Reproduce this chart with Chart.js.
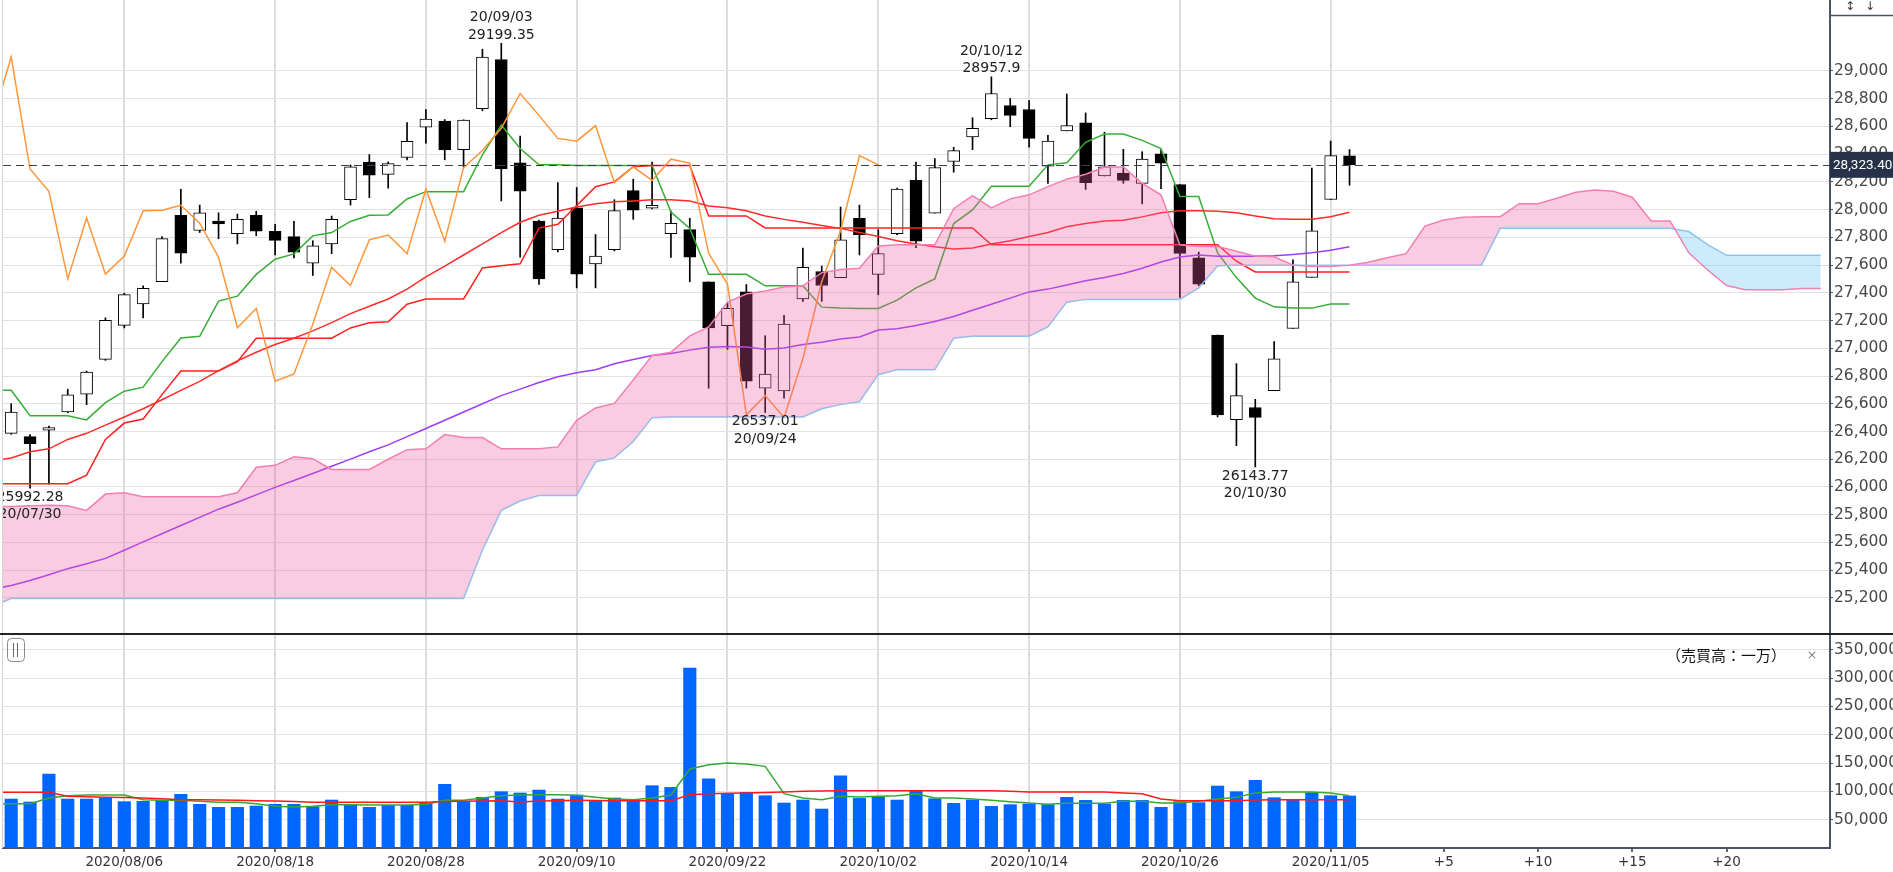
<!DOCTYPE html>
<html><head><meta charset="utf-8">
<script src="https://cdn.jsdelivr.net/npm/chart.js@4/dist/chart.umd.min.js"></script>
<style>
html,body{margin:0;padding:0;background:#fff;overflow:hidden;}
#wrap{position:relative;width:1893px;height:872px;background:#fff;}
#pc{position:absolute;left:0;top:0;}
#vc{position:absolute;left:0;top:632px;}
</style></head><body>
<div id="wrap"><canvas id="pc" width="1893" height="633"></canvas><canvas id="vc" width="1893" height="240"></canvas></div>
<script>
// ---------- DATA ----------
const dates = ['2020/07/29','2020/07/30','2020/07/31','2020/08/03','2020/08/04','2020/08/05','2020/08/06','2020/08/07','2020/08/10','2020/08/11',
 '2020/08/12','2020/08/13','2020/08/14','2020/08/17','2020/08/18','2020/08/19','2020/08/20','2020/08/21','2020/08/24','2020/08/25',
 '2020/08/26','2020/08/27','2020/08/28','2020/08/31','2020/09/01','2020/09/02','2020/09/03','2020/09/04','2020/09/08','2020/09/09',
 '2020/09/10','2020/09/11','2020/09/14','2020/09/15','2020/09/16','2020/09/17','2020/09/18','2020/09/21','2020/09/22','2020/09/23',
 '2020/09/24','2020/09/25','2020/09/28','2020/09/29','2020/09/30','2020/10/01','2020/10/02','2020/10/05','2020/10/06','2020/10/07',
 '2020/10/08','2020/10/09','2020/10/12','2020/10/13','2020/10/14','2020/10/15','2020/10/16','2020/10/19','2020/10/20','2020/10/21',
 '2020/10/22','2020/10/23','2020/10/26','2020/10/27','2020/10/28','2020/10/29','2020/10/30','2020/11/02','2020/11/03','2020/11/04',
 '2020/11/05','2020/11/06'];

const open = [26387,26363,26410,26541,26670,26920,27165,27320,27480,27960,
 27850,27918,27826,27960,27844,27806,27614,27753,28072,28344,
 28255,28376,28595,28639,28432,28728,29083,28338,27918,27711,
 28013,27608,27711,28137,28010,27826,27856,27480,27164,27407,
 26713,26692,27356,27554,27510,27938,27533,27826,28211,27974,
 28347,28524,28657,28751,28722,28314,28568,28627,28243,28264,
 28190,28403,28181,27652,27096,26485,26573,26694,27143,27512,
 28073,28389];
const high = [26600,26378,26440,26705,26836,27220,27398,27451,27806,28146,
 28033,27977,27968,27989,27894,27915,27776,27954,28323,28397,
 28344,28628,28722,28650,28648,29157,29199.35,28530,27924,28196,
 28160,27821,28072,28220,28344,27989,27938,27480,27327,27460,
 27091,27238,27723,27593,28019,28033,27856,28155,28344,28368,
 28450,28663,28957.9,28802,28787,28536,28834,28698,28559,28435,
 28418,28432,28181,27694,27096,26890,26632,27048,27639,28300,
 28495,28433];
const low = [26380,25992.28,26020,26535,26594,26913,27147,27220,27481,27614,
 27835,27791,27753,27812,27673,27652,27525,27682,28033,28087,
 28155,28359,28480,28359,28308,28713,28063,27658,27460,27696,
 27436,27436,27702,27930,28005,27655,27480,26712,26993,26713,
 26537.01,26640,27339,27339,27510,27673,27386,27820,27726,27974,
 28270,28433,28648,28598,28450,28190,28568,28146,28243,28190,
 28042,28152,27368,27451,26505,26298,26143.77,26694,27143,27512,
 28073,28176];
const close = [26541,26313,26428,26664,26828,27201,27387,27433,27791,27687,
 27977,27897,27931,27845,27778,27693,27740,27930,28308,28248,
 28332,28492,28654,28430,28646,29100,28293,28133,27501,27940,
 27535,27666,27993,27996,28032,27902,27657,27148,27288,26763,
 26815,27174,27584,27453,27782,27817,27683,28149,27773,28303,
 28426,28587,28838,28680,28514,28494,28606,28195,28309,28211,
 28364,28336,27685,27463,26520,26659,26502,26925,27480,27848,
 28390,28323.40];

const volume = [86500,81200,130600,86500,86500,88200,81800,82400,84100,94700,
 77100,71800,71800,74100,77100,77100,72900,84700,77100,71800,
 75300,75300,79400,112300,82400,89400,99400,97100,102300,86500,
 93500,82400,88200,85300,110000,107000,317600,122300,95900,98200,
 92300,79400,84700,68800,127600,87600,90000,84700,100000,87000,
 78800,84700,73500,76500,77600,76500,89400,84100,77600,84100,
 84100,71800,81800,80000,109400,99400,119400,88800,85300,97600,
 92300,91800];

// line series start one bar before the first candle (index -1)
const LINE_START = -1;
const tenkan = [26697,26697,26514,26514,26514,26484,26608,26691,26720,26904,27075,27087,27341,27376,27533,27643,27681,27811,27835,27915,
 27959,27962,28077,28130,28130,28130,28396,28610,28441,28323,28323,28318,28318,28318,28318,28318,27983,27865,27534,27534,
 27534,27451,27451,27451,27297,27290,27288,27288,27348,27436,27501,27900,27998,28169,28169,28169,28323,28338,28486,28545,
 28545,28500,28441,28095,28095,27688,27510,27362,27299,27290,27290,27320,27320];
const kijun = [26023,26023,26023,26023,26023,26085,26343,26461,26490,26666,26836,26836,26836,26904,27073,27073,27073,27073,27073,27147,
 27185,27191,27318,27356,27356,27356,27580,27596,27610,27867,27895,28030,28165,28200,28310,28318,28318,28318,27955,27955,
 27955,27868,27868,27868,27868,27868,27868,27868,27868,27868,27868,27868,27868,27747,27747,27747,27747,27747,27747,27747,
 27747,27747,27747,27747,27747,27747,27628,27551,27551,27551,27551,27551,27551];
const ma25 = [26190,26209,26254,26275,26343,26387,26446,26505,26564,26629,26697,26762,26839,26910,26972,27028,27073,27126,27185,27250,
 27303,27356,27427,27516,27593,27673,27753,27835,27909,27959,27989,28019,28042,28057,28063,28072,28072,28063,28027,28013,
 27992,27954,27930,27909,27886,27865,27835,27806,27776,27753,27732,27717,27723,27753,27776,27806,27835,27877,27900,27918,
 27924,27948,27977,27992,27992,27989,27977,27954,27934,27931,27931,27949,27981];
const ma75 = [25262,25290,25325,25367,25411,25447,25485,25544,25604,25663,25722,25781,25840,25890,25943,25997,26047,26097,26150,26201,
 26254,26304,26363,26422,26481,26541,26600,26659,26706,26753,26795,26824,26845,26889,26919,26949,26963,26987,27007,27013,
 27010,26993,27002,27028,27043,27067,27082,27132,27141,27164,27194,27229,27274,27318,27362,27407,27427,27457,27487,27510,
 27540,27578,27622,27658,27673,27664,27664,27664,27668,27677,27689,27707,27733];
const chikou = [28646,29100,28293,28133,27501,27940,27535,27666,27993,27996,28032,27902,27657,27148,27288,26763,26815,27174,27584,27453,
 27782,27817,27683,28149,27773,28303,28426,28587,28838,28680,28514,28494,28606,28195,28309,28211,28364,28336,27685,27463,
 26520,26659,26502,26925,27480,27848,28390,28323.40];
const spanA = [25860,25860,25865,25868,25865,25831,25949,25958,25929,25929,25929,25929,25929,25958,26142,26156,26218,26204,26127,26127,
 26127,26200,26269,26275,26378,26357,26357,26275,26275,26275,26289,26481,26570,26603,26771,26949,26972,27090,27155,27333,
 27392,27413,27442,27451,27546,27569,27578,27738,27747,27747,27747,28007,28101,28013,28078,28107,28166,28220,28255,28308,
 28308,28190,28107,27747,27735,27735,27700,27665,27660,27600,27590,27590,27600,27621,27653,27683,27881,27925,27946,27949,
 27949,28043,28043,28082,28126,28141,28132,28090,27919,27919,27689,27565,27453,27423,27423,27423,27432,27432];
const spanB = [25140,25195,25195,25195,25195,25195,25195,25195,25195,25195,25195,25195,25195,25195,25195,25195,25195,25195,25195,25195,
 25195,25195,25195,25195,25195,25195,25544,25831,25899,25938,25938,25938,26180,26210,26328,26500,26505,26505,26505,26505,
 26505,26505,26505,26505,26564,26594,26615,26810,26845,26845,26845,27073,27087,27087,27087,27087,27155,27333,27353,27353,
 27353,27353,27353,27353,27436,27593,27600,27600,27600,27600,27600,27600,27600,27600,27600,27600,27600,27600,27600,27600,
 27866,27866,27866,27866,27866,27866,27866,27866,27866,27866,27842,27748,27671,27671,27671,27671,27671,27671];
const volMA5 = [78200,78200,78200,88200,92300,93500,93500,93500,85300,84100,84100,82400,80600,80600,78200,73500,72400,73500,76500,76500,
 75900,75900,75900,77100,84100,84100,88200,92300,93500,94100,94100,92900,89400,86500,85300,88200,93500,139400,147000,150000,
 148200,144100,95900,88200,85300,91200,90000,91200,92300,95900,88200,88200,86500,84100,81800,79400,77100,78800,78800,78800,
 82400,82400,79400,79400,82400,86500,89400,97100,98800,98800,98800,97100,92300];
const volMA25 = [98200,98200,98200,98200,91200,90500,89400,89000,88200,87000,85300,85000,84700,84100,83500,82900,82000,80600,80600,80600,
 80600,80600,80600,80600,82000,82400,82800,83500,81200,82900,83500,84100,84000,83500,83500,83500,83500,94100,95900,96500,
 97100,98000,99000,100000,100500,101200,101200,101200,101200,101200,101200,101200,101200,101200,100000,98800,98800,98800,98800,98800,
 97100,95900,86500,83500,83500,83500,83500,84700,85300,85300,85300,85300,85300];

const tickIdx = [6,14,22,30,38,46,54,62,70,76,81,86,91];
const tickLabels = ['2020/08/06','2020/08/18','2020/08/28','2020/09/10','2020/09/22','2020/10/02','2020/10/14','2020/10/26','2020/11/05','+5','+10','+15','+20'];
const priceTicks = [25200,25400,25600,25800,26000,26200,26400,26600,26800,27000,27200,27400,27600,27800,28000,28200,28400,28600,28800,29000];
const volTicks = [50000,100000,150000,200000,250000,300000,350000];

const annIdx  = [26, 52, 1, 40, 66];
const annVal  = [29199.35, 28957.9, 25992.28, 26537.01, 26143.77];
const annDate = ['20/09/03','20/10/12','20/07/30','20/09/24','20/10/30'];
const annSide = ['high','high','low','low','low'];

// ---------- LAYOUT / STYLE ----------
const X_MIN = -0.435, X_MAX = 96.49;
const AXIS_W = 63;
const GRID_H = '#e2e2e2', GRID_V = '#dddddd', AXIS_C = '#4b5366';
Chart.defaults.font.family = "'DejaVu Sans', sans-serif";

const pts = (arr, start) => arr.map((v, k) => ({x: start + k, y: v}));
const bodyData = close.map((c, i) => ({x: i, y: [open[i], c]}));
const wickData = close.map((c, i) => ({x: i, y: [low[i], high[i]]}));
const lastClose = close[close.length - 1];

function lineDs(data, start, color, order) {
  return {type: 'line', data: pts(data, start), borderColor: color, borderWidth: 1.5,
          pointRadius: 0, tension: 0, fill: false, order: order};
}

const xScaleBase = {
  type: 'linear', min: X_MIN, max: X_MAX, offset: false, bounds: 'data',
  afterBuildTicks: s => { s.ticks = tickIdx.map(v => ({value: v})); }
};

const priceDeco = {
  id: 'priceDeco',
  afterDatasetsDraw(chart) {
    const {ctx, chartArea: a, scales: {x, y}} = chart;
    ctx.save();
    ctx.beginPath(); ctx.rect(a.left, a.top, a.right - a.left, a.bottom - a.top); ctx.clip();
    ctx.font = "14px 'DejaVu Sans'"; ctx.fillStyle = '#222';
    ctx.textAlign = 'center'; ctx.textBaseline = 'middle';
    annIdx.forEach((i, k) => {
      const px = x.getPixelForValue(i), py = y.getPixelForValue(annVal[k]);
      if (annSide[k] === 'high') {
        ctx.fillText(String(annVal[k]), px, py - 8);
        ctx.fillText(annDate[k], px, py - 25.5);
      } else {
        ctx.fillText(String(annVal[k]), px, py + 9);
        ctx.fillText(annDate[k], px, py + 26.5);
      }
    });
    const yl = Math.round(y.getPixelForValue(lastClose)) + 0.5;
    ctx.setLineDash([8, 5]); ctx.strokeStyle = '#394052'; ctx.lineWidth = 1.2;
    ctx.beginPath(); ctx.moveTo(a.left, yl); ctx.lineTo(a.right, yl); ctx.stroke();
    ctx.restore();
  },
  afterDraw(chart) {
    const {ctx, chartArea: a, scales: {y}} = chart;
    ctx.save();
    const yl = y.getPixelForValue(lastClose);
    ctx.fillStyle = '#27324a';
    ctx.fillRect(a.right, yl - 13, chart.width - a.right, 26);
    ctx.fillStyle = '#fff'; ctx.font = "13.5px Roboto"; ctx.textAlign = 'left'; ctx.textBaseline = 'middle';
    ctx.fillText(lastClose.toLocaleString('en-US', {minimumFractionDigits: 2}), a.right + 3, yl + 0.5);
    // header of the price axis
    ctx.fillStyle = '#fff'; ctx.fillRect(a.right + 1, 0, chart.width - a.right, 15);
    ctx.strokeStyle = AXIS_C; ctx.lineWidth = 1.5;
    ctx.beginPath(); ctx.moveTo(a.right, 15.5); ctx.lineTo(chart.width, 15.5); ctx.stroke();
    ctx.fillStyle = '#333'; ctx.font = "12px 'DejaVu Sans'"; ctx.textAlign = 'center';
    ctx.fillText('↕', 1850, 7); ctx.fillText('↓', 1870, 7);
    // left edge
    ctx.strokeStyle = '#d4d4d4'; ctx.lineWidth = 1;
    ctx.beginPath(); ctx.moveTo(2.5, 0); ctx.lineTo(2.5, a.bottom); ctx.stroke();
    ctx.restore();
  }
};

new Chart(document.getElementById('pc'), {
  type: 'line',
  data: { datasets: [
    {type: 'line', label: '先行スパンA', data: pts(spanA, LINE_START), borderColor: '#f27fb2', borderWidth: 1.5,
     pointRadius: 0, tension: 0, order: 0,
     fill: {target: 1, above: 'rgba(240,90,160,0.31)', below: 'rgba(90,190,245,0.3)'}},
    {type: 'line', label: '先行スパンB', data: pts(spanB, LINE_START), borderColor: '#8fcaf3', borderWidth: 1.5,
     pointRadius: 0, tension: 0, fill: false, order: 1},
    lineDs(chikou, LINE_START, '#ff963a', 2),
    lineDs(ma75, LINE_START, '#9b3dff', 2),
    lineDs(ma25, LINE_START, '#ff2b2b', 2),
    lineDs(kijun, LINE_START, '#ff1f1f', 2),
    lineDs(tenkan, LINE_START, '#36ad36', 2),
    {type: 'bar', label: 'body', data: bodyData, grouped: false, barThickness: 12, order: 5,
     backgroundColor: c => close[c.dataIndex] >= open[c.dataIndex] ? '#ffffff' : '#000000',
     borderColor: '#000', borderWidth: 1, borderSkipped: false},
    {type: 'bar', label: 'wick', data: wickData, grouped: false, barThickness: 1, order: 6,
     backgroundColor: '#000', borderWidth: 0}
  ]},
  options: {
    responsive: false, animation: false, devicePixelRatio: 1, events: [],
    layout: {padding: {left: 3, right: 0, top: 0, bottom: 0}},
    plugins: {legend: {display: false}, tooltip: {enabled: false}},
    scales: {
      x: Object.assign({}, xScaleBase, {
        grid: {offset: false, color: c => (c.tick && c.tick.value <= 70) ? GRID_V : 'rgba(0,0,0,0)', lineWidth: 2, drawTicks: false},
        border: {display: false},
        ticks: {display: false},
        afterFit: s => { s.height = 0; s.paddingLeft = 0; s.paddingRight = 0; }
      }),
      y: {
        position: 'right', min: 24947, max: 29512, bounds: 'data',
        afterBuildTicks: s => { s.ticks = priceTicks.map(v => ({value: v})); },
        afterFit: s => { s.width = AXIS_W; s.paddingTop = 0; s.paddingBottom = 0; },
        grid: {color: GRID_H, lineWidth: 1, tickLength: 3, tickColor: AXIS_C},
        border: {color: AXIS_C, width: 2},
        ticks: {color: '#474747', padding: 1, font: {size: 15.5, family: "'DejaVu Sans'"},
                callback: v => Number(v).toLocaleString('en-US')}
      }
    }
  },
  plugins: [priceDeco]
});

const volDeco = {
  id: 'volDeco',
  afterDraw(chart) {
    const {ctx, chartArea: a} = chart;
    ctx.save();
    ctx.fillStyle = '#222'; ctx.fillRect(0, 1, chart.width, 2);
    ctx.strokeStyle = '#d4d4d4'; ctx.lineWidth = 1;
    ctx.beginPath(); ctx.moveTo(2.5, 3); ctx.lineTo(2.5, a.bottom); ctx.stroke();
    // "||" handle
    ctx.strokeStyle = '#8a8a8a'; ctx.lineWidth = 1;
    ctx.beginPath(); ctx.roundRect(7.5, 6.5, 17, 23, 4); ctx.stroke();
    ctx.strokeStyle = '#666';
    ctx.beginPath(); ctx.moveTo(13.5, 11); ctx.lineTo(13.5, 25); ctx.moveTo(17.5, 11); ctx.lineTo(17.5, 25); ctx.stroke();
    ctx.fillStyle = '#111'; ctx.font = "15px 'Noto Sans CJK JP'"; ctx.textAlign = 'right'; ctx.textBaseline = 'middle';
    ctx.fillText('（売買高：一万）', 1786, 23);
    ctx.fillStyle = '#888'; ctx.font = "13px 'DejaVu Sans'"; ctx.textAlign = 'center';
    ctx.fillText('×', 1812, 24);
    ctx.restore();
  }
};

new Chart(document.getElementById('vc'), {
  type: 'line',
  data: { datasets: [
    {type: 'line', data: pts(volMA25, LINE_START), borderColor: '#ff1a1a', borderWidth: 1.5, pointRadius: 0, tension: 0, fill: false, order: 0},
    {type: 'line', data: pts(volMA5, LINE_START), borderColor: '#34a834', borderWidth: 1.5, pointRadius: 0, tension: 0, fill: false, order: 1},
    {type: 'bar', data: volume.map((v, i) => ({x: i, y: v})), grouped: false, barThickness: 12.5,
     backgroundColor: '#0066ff', borderWidth: 0, order: 2}
  ]},
  options: {
    responsive: false, animation: false, devicePixelRatio: 1, events: [],
    layout: {padding: {left: 3, right: 0, top: 3, bottom: 0}},
    plugins: {legend: {display: false}, tooltip: {enabled: false}},
    scales: {
      x: Object.assign({}, xScaleBase, {
        grid: {offset: false, color: c => (c.tick && c.tick.value <= 70) ? GRID_V : 'rgba(0,0,0,0)', lineWidth: 2,
               tickLength: 4, tickColor: '#666'},
        border: {color: AXIS_C, width: 2},
        ticks: {autoSkip: false, maxRotation: 0, minRotation: 0, padding: 2, color: '#333',
                font: {size: 13.5, family: "'DejaVu Sans'"},
                callback: (v, k) => tickLabels[k]},
        afterFit: s => { s.height = 24; s.paddingLeft = 0; s.paddingRight = 0; }
      }),
      y: {
        position: 'right', min: 0, max: 376000, bounds: 'data',
        afterBuildTicks: s => { s.ticks = volTicks.map(v => ({value: v})); },
        afterFit: s => { s.width = AXIS_W; s.paddingTop = 0; s.paddingBottom = 0; },
        grid: {color: GRID_H, lineWidth: 1, tickLength: 3, tickColor: AXIS_C},
        border: {color: AXIS_C, width: 2},
        ticks: {color: '#474747', padding: 1, font: {size: 15.5, family: "'DejaVu Sans'"},
                callback: v => Number(v).toLocaleString('en-US')}
      }
    }
  },
  plugins: [volDeco]
});
</script>
</body></html>
